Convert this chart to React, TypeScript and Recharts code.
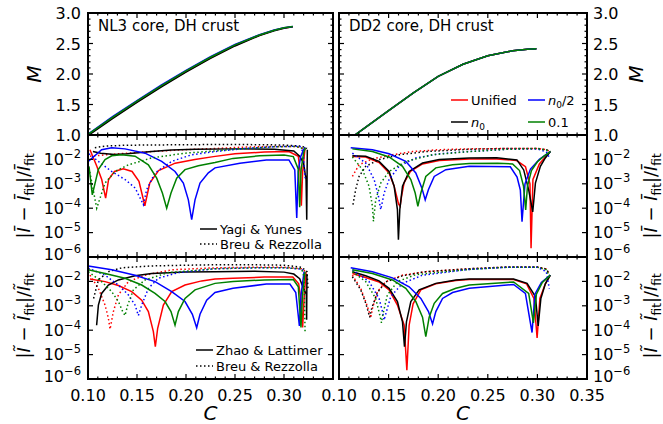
import React from "react";
import { LineChart, Line, XAxis, YAxis } from "recharts";

type Pt = [number, number];

const W = 663;
const H = 424;
const FONT = "DejaVu Sans";

// axis ticks
const cTicks = [0.1, 0.11, 0.12, 0.13, 0.14, 0.15, 0.16, 0.17, 0.18, 0.19, 0.2, 0.21, 0.22, 0.23, 0.24, 0.25, 0.26, 0.27, 0.28, 0.29, 0.3, 0.31, 0.32, 0.33, 0.34, 0.35];
const cLabelsLeft = [0.1, 0.15, 0.2, 0.25, 0.3];
const cLabelsRight = [0.1, 0.15, 0.2, 0.25, 0.3, 0.35];
const massTicks = [1, 1.1, 1.2, 1.3, 1.4, 1.5, 1.6, 1.7, 1.8, 1.9, 2, 2.1, 2.2, 2.3, 2.4, 2.5, 2.6, 2.7, 2.8, 2.9, 3];
const errTicks = [1e-6, 1e-5, 1e-4, 1e-3, 1e-2];

// M vs C
const nl3MassUnified: Pt[] = [[0.1, 1.0], [0.125, 1.28], [0.15, 1.545], [0.175, 1.8], [0.2, 2.04], [0.225, 2.265], [0.25, 2.47], [0.275, 2.635], [0.29, 2.715], [0.3, 2.755], [0.309, 2.775]];
const nl3MassN0: Pt[] = [[0.1, 0.99], [0.125, 1.27], [0.15, 1.535], [0.175, 1.79], [0.2, 2.03], [0.225, 2.255], [0.25, 2.46], [0.275, 2.63], [0.29, 2.71], [0.3, 2.75], [0.309, 2.773]];
const nl3MassHalfN0: Pt[] = [[0.1, 1.015], [0.125, 1.3], [0.15, 1.565], [0.175, 1.82], [0.2, 2.06], [0.225, 2.285], [0.25, 2.485], [0.275, 2.645], [0.29, 2.72], [0.3, 2.76], [0.309, 2.778]];
const nl3Mass01: Pt[] = [[0.1, 1.008], [0.125, 1.29], [0.15, 1.555], [0.175, 1.81], [0.2, 2.05], [0.225, 2.275], [0.25, 2.478], [0.275, 2.64], [0.29, 2.718], [0.3, 2.758], [0.309, 2.777]];
const dd2Mass: Pt[] = [[0.116, 1.0], [0.125, 1.105], [0.15, 1.4], [0.175, 1.69], [0.2, 1.96], [0.225, 2.16], [0.25, 2.3], [0.275, 2.38], [0.29, 2.405], [0.299, 2.415]];

// NL3, I-bar residuals (Yagi & Yunes solid, Breu & Rezzolla dotted)
const nl3IbarYYUnified: Pt[] = [[0.102, 2.5e-2], [0.109, 5.2e-3], [0.114, 1.5e-3], [0.118, 2.6e-4], [0.121, 1.5e-3], [0.127, 3.2e-3], [0.136, 4.1e-3], [0.145, 3.2e-3], [0.152, 1.26e-3], [0.158, 1.26e-4], [0.163, 1.07e-3], [0.172, 3.5e-3], [0.189, 7e-3], [0.209, 1.0e-2], [0.228, 1.3e-2], [0.25, 1.7e-2], [0.28, 2.0e-2], [0.305, 2.1e-2], [0.3146, 1.35e-2], [0.3165, 3e-3], [0.3177, 1.26e-4], [0.319, 3e-3], [0.3215, 3.0e-2]];
const nl3IbarYYN0: Pt[] = [[0.105, 2.1e-2], [0.113, 1.8e-2], [0.127, 1.6e-2], [0.14, 1.7e-2], [0.165, 2.1e-2], [0.185, 2.4e-2], [0.21, 2.6e-2], [0.25, 2.7e-2], [0.29, 2.6e-2], [0.31, 2.2e-2], [0.316, 1.35e-2], [0.32, 7e-3], [0.3225, 1.5e-3], [0.3232, 3.4e-5], [0.3236, 3e-3], [0.3238, 2.5e-2]];
const nl3IbarYYHalfN0: Pt[] = [[0.1003, 8.3e-3], [0.1139, 2.5e-2], [0.1242, 3.0e-2], [0.1378, 2.7e-2], [0.1582, 1.8e-2], [0.1752, 8.3e-3], [0.1888, 3.2e-3], [0.1973, 1.07e-3], [0.2024, 2.2e-4], [0.2058, 3.4e-5], [0.2092, 2.2e-4], [0.2143, 1.07e-3], [0.2228, 2.8e-3], [0.2296, 4.5e-3], [0.255, 6.9e-3], [0.282, 9.5e-3], [0.305, 9.5e-3], [0.311, 3.7e-3], [0.313, 4.0e-5], [0.3145, 3.2e-3], [0.317, 1.3e-2], [0.32, 2.5e-2], [0.3215, 3.2e-2]];
const nl3IbarYY01: Pt[] = [[0.101, 5.2e-3], [0.1044, 3.5e-4], [0.1105, 3.8e-3], [0.1174, 9.8e-3], [0.1242, 1.4e-2], [0.1344, 1.55e-2], [0.148, 1.35e-2], [0.1616, 6e-3], [0.1701, 1.7e-3], [0.1759, 4.2e-4], [0.1803, 1.0e-4], [0.1847, 4.2e-4], [0.1905, 1.7e-3], [0.199, 3.8e-3], [0.2126, 5.5e-3], [0.2296, 7.5e-3], [0.248, 1.1e-2], [0.275, 1.4e-2], [0.3, 1.5e-2], [0.3095, 1.3e-2], [0.3146, 4e-3], [0.316, 1.1e-4], [0.3175, 4e-3], [0.32, 1.8e-2], [0.3215, 3.0e-2]];
const nl3IbarBRUnified: Pt[] = [[0.102, 1.35e-2], [0.131, 1.7e-2], [0.165, 2.1e-2], [0.199, 2.5e-2], [0.23, 2.8e-2], [0.26, 3.2e-2], [0.29, 3.4e-2], [0.312, 3.4e-2], [0.322, 2.6e-2]];
const nl3IbarBRN0: Pt[] = [[0.107, 3.0e-2], [0.117, 3.5e-2], [0.138, 3.8e-2], [0.165, 3.9e-2], [0.2, 4.0e-2], [0.25, 4.1e-2], [0.3, 3.9e-2], [0.318, 3.5e-2], [0.3235, 2.8e-2]];
const nl3IbarBRHalfN0: Pt[] = [[0.101, 1.7e-2], [0.1105, 8.3e-3], [0.1242, 3.2e-3], [0.1378, 1.5e-3], [0.148, 6.8e-4], [0.1541, 2.2e-4], [0.1565, 1.4e-4], [0.1599, 5.8e-4], [0.1684, 2.8e-3], [0.1854, 8.3e-3], [0.2058, 1.55e-2], [0.2296, 2.1e-2], [0.26, 2.8e-2], [0.29, 3.3e-2], [0.316, 3.5e-2], [0.3195, 2.0e-2], [0.3215, 1.7e-3]];
const nl3IbarBR01: Pt[] = [[0.101, 4.5e-3], [0.1089, 1.0e-4], [0.1174, 1.07e-3], [0.1276, 3.2e-3], [0.1412, 6e-3], [0.165, 1.15e-2], [0.199, 1.8e-2], [0.228, 2.2e-2], [0.26, 2.8e-2], [0.29, 3.3e-2], [0.312, 3.4e-2], [0.322, 2.6e-2]];

// DD2, I-bar residuals
const dd2IbarYYUnified: Pt[] = [[0.1135, 1.3e-2], [0.1269, 1.25e-2], [0.1404, 7.5e-3], [0.1505, 2.8e-3], [0.1556, 8e-4], [0.16, 1.5e-4], [0.1616, 1.2e-4], [0.163, 3e-4], [0.1656, 1.1e-3], [0.172, 3.2e-3], [0.1842, 6.5e-3], [0.201, 9e-3], [0.2313, 1.05e-2], [0.259, 1.05e-2], [0.279, 9e-3], [0.288, 5e-3], [0.2925, 1e-3], [0.2936, 2.3e-6], [0.2955, 1.5e-3], [0.302, 6.5e-3], [0.308, 1.25e-2], [0.313, 2.1e-2]];
const dd2IbarYYN0: Pt[] = [[0.1135, 1.4e-2], [0.1269, 1.35e-2], [0.1404, 8.3e-3], [0.1505, 3.2e-3], [0.1556, 7.9e-4], [0.1589, 8.7e-5], [0.1599, 5.1e-6], [0.1613, 8.7e-5], [0.164, 7.9e-4], [0.1707, 3.2e-3], [0.1842, 7.1e-3], [0.201, 9.8e-3], [0.2313, 1.15e-2], [0.259, 1.17e-2], [0.2794, 9.5e-3], [0.2862, 3.7e-3], [0.2912, 5.6e-4], [0.2953, 7e-5], [0.298, 1.07e-3], [0.303, 5.2e-3], [0.308, 1.15e-2], [0.313, 2.1e-2]];
const dd2IbarYYHalfN0: Pt[] = [[0.1118, 3.0e-2], [0.1337, 2.5e-2], [0.1505, 1.7e-2], [0.1673, 8.3e-3], [0.1774, 2.8e-3], [0.1835, 6.8e-4], [0.1869, 2.2e-4], [0.1902, 5.8e-4], [0.196, 2e-3], [0.2077, 3.8e-3], [0.2313, 5.2e-3], [0.2727, 5e-3], [0.2795, 1.9e-3], [0.2828, 5.6e-4], [0.2845, 2.8e-5], [0.2875, 1e-3], [0.293, 4e-3], [0.302, 1e-2], [0.313, 2.1e-2]];
const dd2IbarYY01: Pt[] = [[0.1135, 2.7e-2], [0.1337, 2.1e-2], [0.1505, 1.26e-2], [0.164, 5.2e-3], [0.1724, 1.5e-3], [0.1768, 4.2e-4], [0.1795, 1.2e-4], [0.1825, 4.2e-4], [0.1875, 2.0e-3], [0.1976, 4.5e-3], [0.2145, 6e-3], [0.2313, 6.8e-3], [0.26, 7e-3], [0.275, 6.5e-3], [0.282, 3.5e-3], [0.286, 8e-4], [0.2882, 8.5e-5], [0.29, 8e-4], [0.294, 3.5e-3], [0.3, 8e-3], [0.307, 1.4e-2], [0.313, 2.1e-2]];
const dd2IbarBRUnified: Pt[] = [[0.1135, 2.0e-3], [0.1202, 6e-3], [0.1337, 1.05e-2], [0.1539, 1.55e-2], [0.1741, 2.1e-2], [0.201, 2.5e-2], [0.2313, 2.7e-2], [0.27, 2.8e-2], [0.3, 2.8e-2], [0.309, 2.5e-2], [0.313, 2.1e-2]];
const dd2IbarBRN0: Pt[] = [[0.1141, 1.4e-4], [0.1168, 5.8e-4], [0.1202, 2.0e-3], [0.1269, 5.2e-3], [0.1404, 9.8e-3], [0.1606, 1.55e-2], [0.1875, 2.1e-2], [0.2313, 2.6e-2], [0.27, 2.8e-2], [0.3, 2.8e-2], [0.309, 2.5e-2], [0.313, 2.1e-2]];
const dd2IbarBRHalfN0: Pt[] = [[0.1135, 1.8e-2], [0.1269, 7.1e-3], [0.1354, 1.5e-3], [0.1397, 3.2e-4], [0.1421, 8.7e-5], [0.1455, 4.2e-4], [0.1505, 1.5e-3], [0.1606, 5.2e-3], [0.1774, 1.15e-2], [0.201, 1.7e-2], [0.2313, 2.1e-2], [0.27, 2.6e-2], [0.3, 2.7e-2], [0.309, 2.0e-2], [0.3125, 1.1e-2]];
const dd2IbarBR01: Pt[] = [[0.1135, 1.26e-2], [0.1236, 3.8e-3], [0.1303, 7.9e-4], [0.1337, 1.2e-4], [0.1347, 2.9e-5], [0.137, 2.2e-4], [0.1421, 1.07e-3], [0.1505, 3.2e-3], [0.1673, 8.3e-3], [0.1943, 1.55e-2], [0.2313, 2.1e-2], [0.27, 2.6e-2], [0.3, 2.8e-2], [0.309, 2.4e-2], [0.313, 2.0e-2]];

// NL3, I-tilde residuals (Zhao & Lattimer solid, Breu & Rezzolla dotted)
const nl3ItilZLUnified: Pt[] = [[0.102, 1.26e-2], [0.1174, 9.8e-3], [0.131, 6.8e-3], [0.1446, 3.8e-3], [0.1548, 1.7e-3], [0.1616, 5.8e-4], [0.1667, 8.7e-5], [0.1687, 2.1e-5], [0.1711, 1.2e-4], [0.1769, 1.07e-3], [0.1854, 3.8e-3], [0.199, 7.1e-3], [0.216, 1.05e-2], [0.2296, 1.26e-2], [0.248, 1.35e-2], [0.28, 1.5e-2], [0.309, 1.5e-2], [0.315, 8e-3], [0.3175, 1.5e-3], [0.319, 1.3e-4], [0.3205, 2e-3], [0.3225, 2.5e-2]];
const nl3ItilZLN0: Pt[] = [[0.1088, 1.6e-4], [0.1106, 1.07e-3], [0.1139, 3.2e-3], [0.1208, 7.1e-3], [0.131, 1.15e-2], [0.148, 1.7e-2], [0.165, 2.1e-2], [0.199, 2.4e-2], [0.2296, 2.5e-2], [0.27, 2.6e-2], [0.3, 2.4e-2], [0.31, 2.0e-2], [0.316, 1.3e-2], [0.32, 5e-3], [0.3228, 3e-3], [0.3231, 2.7e-4], [0.3234, 2e-2]];
const nl3ItilZLHalfN0: Pt[] = [[0.1003, 4.3e-2], [0.1242, 3.0e-2], [0.148, 1.8e-2], [0.1684, 9.8e-3], [0.1854, 3.8e-3], [0.199, 1.5e-3], [0.2065, 4.5e-4], [0.2109, 1.26e-4], [0.2143, 4.5e-4], [0.2211, 1.7e-3], [0.2296, 3.5e-3], [0.248, 5.2e-3], [0.282, 7.8e-3], [0.306, 7.8e-3], [0.312, 3.5e-3], [0.3157, 1.5e-4], [0.3175, 3e-3], [0.3205, 2.5e-2]];
const nl3ItilZL01: Pt[] = [[0.1003, 3.0e-2], [0.1174, 2.1e-2], [0.1378, 1.35e-2], [0.1548, 7.1e-3], [0.1684, 3.2e-3], [0.1786, 1.5e-3], [0.1847, 5.8e-4], [0.1888, 1.6e-4], [0.1922, 5.8e-4], [0.199, 2.0e-3], [0.2092, 4.5e-3], [0.2296, 8.3e-3], [0.248, 9.8e-3], [0.28, 1.15e-2], [0.3095, 1.2e-2], [0.3146, 6e-3], [0.3173, 1.3e-4], [0.319, 3e-3], [0.3215, 2.5e-2]];
const nl3ItilBRUnified: Pt[] = [[0.102, 1.8e-2], [0.1106, 5.2e-3], [0.1174, 1.07e-3], [0.1208, 3.1e-4], [0.1225, 1.1e-4], [0.1259, 5.8e-4], [0.131, 2.8e-3], [0.1412, 9.8e-3], [0.1582, 1.8e-2], [0.1854, 3.0e-2], [0.2296, 3.6e-2], [0.27, 3.8e-2], [0.3, 3.8e-2], [0.318, 3.3e-2], [0.322, 2.5e-2]];
const nl3ItilBRN0: Pt[] = [[0.1057, 2.0e-3], [0.1106, 1.15e-2], [0.1208, 2.5e-2], [0.1344, 3.6e-2], [0.165, 4.3e-2], [0.199, 4.6e-2], [0.23, 4.8e-2], [0.27, 4.8e-2], [0.3, 4.6e-2], [0.318, 3.8e-2], [0.3235, 2.5e-2], [0.3245, 4.6e-3]];
const nl3ItilBRHalfN0: Pt[] = [[0.1003, 3.5e-2], [0.1174, 1.8e-2], [0.131, 7.1e-3], [0.1412, 2.8e-3], [0.148, 1.07e-3], [0.1514, 4.0e-4], [0.1548, 1.07e-3], [0.1616, 5.2e-3], [0.1718, 1.35e-2], [0.1922, 2.3e-2], [0.2296, 3.3e-2], [0.27, 3.6e-2], [0.3, 3.6e-2], [0.318, 3.2e-2], [0.3215, 2.0e-2]];
const nl3ItilBR01: Pt[] = [[0.1003, 2.5e-2], [0.1139, 9.8e-3], [0.1242, 3.8e-3], [0.131, 1.5e-3], [0.1354, 5.8e-4], [0.1378, 4.0e-4], [0.1405, 1.07e-3], [0.1463, 4.5e-3], [0.1582, 1.15e-2], [0.182, 2.3e-2], [0.2296, 3.3e-2], [0.27, 3.6e-2], [0.3, 3.6e-2], [0.318, 3.3e-2], [0.3205, 1.5e-2], [0.3215, 8e-5]];

// DD2, I-tilde residuals
const dd2ItilZLUnified: Pt[] = [[0.1135, 2.1e-2], [0.1269, 1.45e-2], [0.1404, 9.5e-3], [0.1505, 4.5e-3], [0.1589, 1.07e-3], [0.1657, 1.6e-4], [0.1684, 2.3e-6], [0.1707, 1.6e-4], [0.1747, 1.2e-3], [0.1825, 4.5e-3], [0.1976, 8e-3], [0.2178, 1.1e-2], [0.2313, 1.2e-2], [0.276, 1.2e-2], [0.289, 8e-3], [0.2965, 2e-3], [0.2997, 4.8e-5], [0.3025, 2e-3], [0.308, 8e-3], [0.313, 1.8e-2]];
const dd2ItilZLN0: Pt[] = [[0.1135, 2.5e-2], [0.1269, 1.7e-2], [0.1404, 1.05e-2], [0.1505, 5.2e-3], [0.1589, 1.5e-3], [0.164, 2.2e-4], [0.166, 2.1e-5], [0.168, 2.2e-4], [0.1724, 1.5e-3], [0.1808, 4.5e-3], [0.1976, 8.3e-3], [0.2178, 1.15e-2], [0.2313, 1.26e-2], [0.276, 1.25e-2], [0.2896, 8.3e-3], [0.298, 2.4e-3], [0.3008, 1.5e-4], [0.3035, 2e-3], [0.308, 8e-3], [0.313, 1.8e-2]];
const dd2ItilZLHalfN0: Pt[] = [[0.1118, 3.6e-2], [0.1337, 2.5e-2], [0.1539, 1.4e-2], [0.1707, 6e-3], [0.1825, 2.0e-3], [0.1902, 5.8e-4], [0.1943, 1.8e-4], [0.1976, 5.8e-4], [0.2044, 2e-3], [0.2145, 3.5e-3], [0.2313, 5.2e-3], [0.276, 7.5e-3], [0.2879, 3.2e-3], [0.2946, 8e-5], [0.2975, 3e-3], [0.304, 9e-3], [0.313, 1.8e-2]];
const dd2ItilZL01: Pt[] = [[0.1135, 3.0e-2], [0.1337, 2.1e-2], [0.1539, 1.15e-2], [0.1673, 5.2e-3], [0.1774, 1.5e-3], [0.1842, 3.4e-4], [0.1875, 5.4e-5], [0.1909, 3.4e-4], [0.196, 1.26e-3], [0.2044, 3.2e-3], [0.2178, 5.2e-3], [0.2313, 7.1e-3], [0.276, 9.5e-3], [0.2912, 3.2e-3], [0.296, 2e-4], [0.299, 3e-3], [0.305, 9e-3], [0.313, 1.8e-2]];
const dd2ItilBRUnified: Pt[] = [[0.1135, 1.8e-2], [0.1219, 5.2e-3], [0.1269, 1.5e-3], [0.1303, 5.8e-4], [0.132, 3.2e-4], [0.1337, 7.9e-4], [0.1387, 3.8e-3], [0.1471, 9.8e-3], [0.164, 1.8e-2], [0.1875, 2.5e-2], [0.2313, 3.3e-2], [0.27, 3.9e-2], [0.3, 3.9e-2], [0.309, 3.2e-2], [0.3115, 2.2e-2]];
const dd2ItilBRN0: Pt[] = [[0.1135, 1.55e-2], [0.1219, 4.5e-3], [0.1269, 1.3e-3], [0.131, 3.4e-4], [0.133, 8e-4], [0.1387, 3.5e-3], [0.1471, 9.5e-3], [0.164, 1.7e-2], [0.1875, 2.5e-2], [0.2313, 3.3e-2], [0.27, 3.9e-2], [0.3, 3.9e-2], [0.309, 3.2e-2], [0.3115, 2.2e-2]];
const dd2ItilBRHalfN0: Pt[] = [[0.1135, 3.0e-2], [0.1303, 9.8e-3], [0.1404, 2.0e-3], [0.1438, 5.8e-4], [0.1455, 2.6e-4], [0.1478, 5.8e-4], [0.1522, 2.4e-3], [0.164, 8.3e-3], [0.1842, 1.8e-2], [0.2313, 3.1e-2], [0.27, 3.8e-2], [0.3, 3.8e-2], [0.309, 2.5e-2], [0.312, 5e-3]];
const dd2ItilBR01: Pt[] = [[0.1135, 2.5e-2], [0.1269, 9.8e-3], [0.137, 2.0e-3], [0.1411, 4.2e-4], [0.1428, 2.0e-4], [0.1444, 4.8e-4], [0.1488, 2.8e-3], [0.1589, 9.8e-3], [0.1774, 1.9e-2], [0.2313, 3.1e-2], [0.27, 3.8e-2], [0.3, 3.8e-2], [0.309, 3.0e-2], [0.3115, 1.8e-2]];

const RED = "#ff0000";
const BLACK = "#000000";
const BLUE = "#0000ff";
const GREEN = "#008000";

type Series = { data: Pt[]; color: string; dotted?: boolean };
type Box = { left: number; top: number; right: number; bottom: number };

const near = (a: number, b: number) => Math.abs(a - b) < 1e-6;

function CTick(props: any) {
  const { x, y, payload, side, labels } = props;
  const v = payload.value as number;
  const major = near(v * 20, Math.round(v * 20));
  const len = major ? 5 : 2.5;
  const dir = side === "bottom" ? -1 : 1;
  const show = labels && labels.some((l: number) => near(l, v));
  return (
    <g>
      <line x1={x} x2={x} y1={y} y2={y + dir * len} stroke="#000" strokeWidth={1.2} />
      {show && (
        <text x={x} y={y + 22} textAnchor="middle" fontSize={16} fontFamily={FONT} fill="#000">
          {v.toFixed(2)}
        </text>
      )}
    </g>
  );
}

function YTick(props: any) {
  const { x, y, payload, side, log, showLabel } = props;
  const v = payload.value as number;
  const major = log ? true : near(v * 2, Math.round(v * 2));
  const len = major ? 5 : 2.5;
  const dir = side === "left" ? 1 : -1;
  const tx = side === "left" ? x - 7 : x + 6;
  const anchor = side === "left" ? "end" : "start";
  // the lowest decade label sits a little above its tick, as in the original
  const lift = log && near(v * 1e6, 1) ? 2.5 : 0;
  let label: React.ReactNode = null;
  if (showLabel && major) {
    label = log ? (
      <text x={tx} y={y + 5.5 - lift} textAnchor={anchor} fontSize={16} fontFamily={FONT} fill="#000">
        10
        <tspan dy={-7} fontSize={11.5}>
          {"\u2212" + Math.round(-Math.log10(v))}
        </tspan>
      </text>
    ) : (
      <text x={tx} y={y + 6} textAnchor={anchor} fontSize={16} fontFamily={FONT} fill="#000">
        {v.toFixed(1)}
      </text>
    );
  }
  return (
    <g>
      <line x1={x} x2={x + dir * len} y1={y} y2={y} stroke="#000" strokeWidth={1.2} />
      {label}
    </g>
  );
}

const frame = { stroke: "#000", strokeWidth: 2, strokeLinecap: "square" as const };

function Panel({ box, series, log, xLabels, labelSide }: { box: Box; series: Series[]; log: boolean; xLabels?: number[]; labelSide: "left" | "right" }) {
  const yDomain = log ? [1e-6, 1e-1] : [1, 3];
  const yTicks = log ? errTicks : massTicks;
  const common = { type: "number" as const, allowDataOverflow: true, interval: 0 as const, tickSize: 0, tickMargin: 0, tickLine: false, axisLine: frame };
  // axes are 1px thick so that Recharts still draws them
  return (
    <LineChart
      width={W}
      height={H}
      margin={{ top: box.top - 1, left: box.left - 1, right: W - box.right - 1, bottom: H - box.bottom - 1 }}
      style={{ position: "absolute", left: 0, top: 0 }}
    >
      <XAxis {...common} xAxisId="b" dataKey="c" orientation="bottom" height={1} domain={[0.1, 0.35]} ticks={cTicks} tick={(p: any) => <CTick {...p} side="bottom" labels={xLabels} />} />
      <XAxis {...common} xAxisId="t" dataKey="c" orientation="top" height={1} domain={[0.1, 0.35]} ticks={cTicks} tick={(p: any) => <CTick {...p} side="top" />} />
      <YAxis {...common} yAxisId="l" dataKey="v" orientation="left" width={1} scale={log ? "log" : "linear"} domain={yDomain} ticks={yTicks} tick={(p: any) => <YTick {...p} side="left" log={log} showLabel={labelSide === "left"} />} />
      <YAxis {...common} yAxisId="r" dataKey="v" orientation="right" width={1} scale={log ? "log" : "linear"} domain={yDomain} ticks={yTicks} tick={(p: any) => <YTick {...p} side="right" log={log} showLabel={labelSide === "right"} />} />
      {series.map((s, i) => (
        <Line
          key={i}
          xAxisId="b"
          yAxisId="l"
          data={s.data.map(([c, v]) => ({ c, v }))}
          dataKey="v"
          type="linear"
          stroke={s.color}
          strokeWidth={1.5}
          strokeDasharray={s.dotted ? "1.5 2.5" : undefined}
          dot={false}
          activeDot={false}
          isAnimationActive={false}
        />
      ))}
    </LineChart>
  );
}

const colLeft = { left: 88, right: 333 };
const colRight = { left: 339, right: 587 };
const rowTop = { top: 13, bottom: 135 };
const rowMid = { top: 135, bottom: 257 };
const rowBot = { top: 257, bottom: 379 };

function pairs(solid: Pt[][], dotted: Pt[][]): Series[] {
  const cols = [RED, BLACK, BLUE, GREEN];
  const out: Series[] = [];
  cols.forEach((color, i) => {
    out.push({ data: solid[i], color });
    out.push({ data: dotted[i], color, dotted: true });
  });
  return out;
}

function LegendRow({ x, y, color, dotted, children }: { x: number; y: number; color: string; dotted?: boolean; children: React.ReactNode }) {
  return (
    <g>
      <line x1={x} x2={x + 17} y1={y} y2={y} stroke={color} strokeWidth={1.5} strokeDasharray={dotted ? "1.5 2.5" : undefined} />
      <text x={x + 20} y={y + 4.5} fontSize={13} fontFamily={FONT} fill="#000">
        {children}
      </text>
    </g>
  );
}

function IbarLabel({ x, y, ch }: { x: number; y: number; ch: string }) {
  return (
    <text transform={`translate(${x},${y}) rotate(-90)`} textAnchor="middle" fontSize={18} fontFamily={FONT} fill="#000">
      |<tspan fontStyle="italic">{ch}</tspan>
      {" \u2212 "}
      <tspan fontStyle="italic">{ch}</tspan>
      <tspan fontSize={12} dy={4}>fit</tspan>
      <tspan dy={-4}>|/</tspan>
      <tspan fontStyle="italic">{ch}</tspan>
      <tspan fontSize={12} dy={4}>fit</tspan>
    </text>
  );
}

export default function App() {
  const massLeft: Series[] = [
    { data: nl3MassUnified, color: RED },
    { data: nl3MassN0, color: BLACK },
    { data: nl3MassHalfN0, color: BLUE },
    { data: nl3Mass01, color: GREEN },
  ];
  const massRight: Series[] = [
    { data: dd2Mass, color: RED },
    { data: dd2Mass, color: BLACK },
    { data: dd2Mass, color: BLUE },
    { data: dd2Mass, color: GREEN },
  ];
  return (
    <div style={{ position: "absolute", left: 0, top: 0, width: W, height: H, background: "#fff" }}>
      <Panel box={{ ...colLeft, ...rowTop }} series={massLeft} log={false} labelSide="left" />
      <Panel box={{ ...colRight, ...rowTop }} series={massRight} log={false} labelSide="right" />
      <Panel
        box={{ ...colLeft, ...rowMid }}
        series={pairs([nl3IbarYYUnified, nl3IbarYYN0, nl3IbarYYHalfN0, nl3IbarYY01], [nl3IbarBRUnified, nl3IbarBRN0, nl3IbarBRHalfN0, nl3IbarBR01])}
        log
        labelSide="left"
      />
      <Panel
        box={{ ...colRight, ...rowMid }}
        series={pairs([dd2IbarYYUnified, dd2IbarYYN0, dd2IbarYYHalfN0, dd2IbarYY01], [dd2IbarBRUnified, dd2IbarBRN0, dd2IbarBRHalfN0, dd2IbarBR01])}
        log
        labelSide="right"
      />
      <Panel
        box={{ ...colLeft, ...rowBot }}
        series={pairs([nl3ItilZLUnified, nl3ItilZLN0, nl3ItilZLHalfN0, nl3ItilZL01], [nl3ItilBRUnified, nl3ItilBRN0, nl3ItilBRHalfN0, nl3ItilBR01])}
        log
        xLabels={cLabelsLeft}
        labelSide="left"
      />
      <Panel
        box={{ ...colRight, ...rowBot }}
        series={pairs([dd2ItilZLUnified, dd2ItilZLN0, dd2ItilZLHalfN0, dd2ItilZL01], [dd2ItilBRUnified, dd2ItilBRN0, dd2ItilBRHalfN0, dd2ItilBR01])}
        log
        xLabels={cLabelsRight}
        labelSide="right"
      />
      <svg width={W} height={H} style={{ position: "absolute", left: 0, top: 0, pointerEvents: "none" }}>
        <text x={98} y={31} fontSize={15} fontFamily={FONT} fill="#000">NL3 core, DH crust</text>
        <text x={349} y={31} fontSize={15} fontFamily={FONT} fill="#000">DD2 core, DH crust</text>

        <LegendRow x={451} y={100} color={RED}>Unified</LegendRow>
        <LegendRow x={451} y={122} color={BLACK}>
          <tspan fontStyle="italic">n</tspan>
          <tspan fontSize={9} dy={3}>0</tspan>
        </LegendRow>
        <LegendRow x={528} y={100} color={BLUE}>
          <tspan fontStyle="italic">n</tspan>
          <tspan fontSize={9} dy={3}>0</tspan>
          <tspan dy={-3}>/2</tspan>
        </LegendRow>
        <LegendRow x={528} y={122} color={GREEN}>0.1</LegendRow>

        <LegendRow x={200} y={229} color={BLACK}>Yagi &amp; Yunes</LegendRow>
        <LegendRow x={200} y={244} color={BLACK} dotted>Breu &amp; Rezzolla</LegendRow>
        <LegendRow x={196} y={350} color={BLACK}>Zhao &amp; Lattimer</LegendRow>
        <LegendRow x={196} y={366} color={BLACK} dotted>Breu &amp; Rezzolla</LegendRow>

        <text x={210.5} y={420} textAnchor="middle" fontSize={20} fontStyle="italic" fontFamily={FONT} fill="#000">C</text>
        <text x={463} y={420} textAnchor="middle" fontSize={20} fontStyle="italic" fontFamily={FONT} fill="#000">C</text>
        <text transform="translate(41,74) rotate(-90)" textAnchor="middle" fontSize={20} fontStyle="italic" fontFamily={FONT} fill="#000">M</text>
        <text transform="translate(643,74) rotate(-90)" textAnchor="middle" fontSize={20} fontStyle="italic" fontFamily={FONT} fill="#000">M</text>

        <IbarLabel x={30} y={196} ch={"\u012A"} />
        <IbarLabel x={657} y={196} ch={"\u012A"} />
        <IbarLabel x={30} y={316} ch={"\u0128"} />
        <IbarLabel x={657} y={316} ch={"\u0128"} />
      </svg>
    </div>
  );
}
